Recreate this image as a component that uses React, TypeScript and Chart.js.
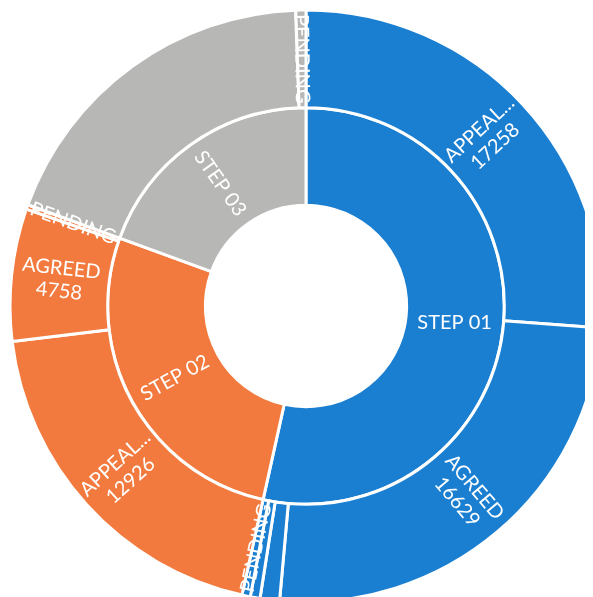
import React, { useEffect, useRef } from "react";
import { Chart, registerables } from "chart.js";

Chart.register(...registerables);

const parentNames = ["STEP 01", "STEP 02", "STEP 03"];
const parentColors = ["#1b7fd1", "#f27a3e", "#b7b7b5"];

const childNames = ["APPEAL...", "AGREED", "OTHER", "WITHDRAWN", "PENDING", "APPEAL...", "AGREED", "PENDING", "APPEALED", "PENDING"];
const childValues = [17258, 16629, 700, 350, 300, 12926, 4758, 164, 12450, 363];
const childParent = [0, 0, 0, 0, 0, 1, 1, 1, 2, 2];
const childShowName = [true, true, false, false, true, true, true, true, false, true];
const childShowValue = [true, true, false, false, false, true, true, false, false, false];

const parentValues = parentNames.map((_, p) =>
  childValues.reduce((s, v, i) => (childParent[i] === p ? s + v : s), 0)
);

const childLines = childNames.map((n, i) => {
  const l: string[] = [];
  if (childShowName[i]) l.push(n);
  if (childShowValue[i]) l.push(String(childValues[i]));
  return l;
});
const parentLines = parentNames.map((n) => [n]);

const labelPlugin = {
  id: "sunLabels",
  afterDatasetsDraw(chart: any) {
    const ctx = chart.ctx;
    chart.data.datasets.forEach((ds: any, di: number) => {
      const meta = chart.getDatasetMeta(di);
      meta.data.forEach((arc: any, i: number) => {
        const lines: string[] = ds.labelLines[i];
        if (!lines || !lines.length) return;
        const p = arc.getProps(["x", "y", "startAngle", "endAngle", "innerRadius", "outerRadius"], true);
        const mid = (p.startAngle + p.endAngle) / 2;
        const r = (p.innerRadius + p.outerRadius) / 2;
        const cx = p.x + Math.cos(mid) * r;
        const cy = p.y + Math.sin(mid) * r;
        const degTop = (((mid + Math.PI / 2) * 180) / Math.PI + 720) % 360;
        let rotation = degTop < 180 ? degTop - 90 : degTop - 270;
        if (p.endAngle - p.startAngle > Math.PI) rotation = 0;
        ctx.save();
        ctx.translate(cx, cy);
        ctx.rotate((rotation * Math.PI) / 180);
        ctx.fillStyle = "#ffffff";
        ctx.font = "20px Lato";
        ctx.textAlign = "center";
        ctx.textBaseline = "middle";
        const lh = 23;
        const off = ((lines.length - 1) * lh) / 2;
        lines.forEach((t, k) => ctx.fillText(t, 0, k * lh - off));
        ctx.restore();
      });
    });
  },
};

export default function App() {
  const ref = useRef<HTMLCanvasElement>(null);
  useEffect(() => {
    if (!ref.current) return;
    const chart = new Chart(ref.current, {
      type: "doughnut",
      data: {
        labels: childNames,
        datasets: [
          {
            data: childValues,
            backgroundColor: childParent.map((p) => parentColors[p]),
            borderColor: "#ffffff",
            borderWidth: 3,
            labelLines: childLines,
          } as any,
          {
            data: parentValues,
            backgroundColor: parentColors,
            borderColor: "#ffffff",
            borderWidth: 3,
            labelLines: parentLines,
          } as any,
        ],
      },
      options: {
        responsive: false,
        animation: false,
        events: [],
        radius: 296,
        cutout: "34%",
        layout: { padding: 0 },
        plugins: { legend: { display: false }, tooltip: { enabled: false } },
      } as any,
      plugins: [labelPlugin],
    });
    return () => chart.destroy();
  }, []);
  return (
    <div style={{ width: 585, height: 589, overflow: "hidden", position: "relative" }}>
      <canvas ref={ref} width={596} height={596} style={{ display: "block" }} />
    </div>
  );
}
